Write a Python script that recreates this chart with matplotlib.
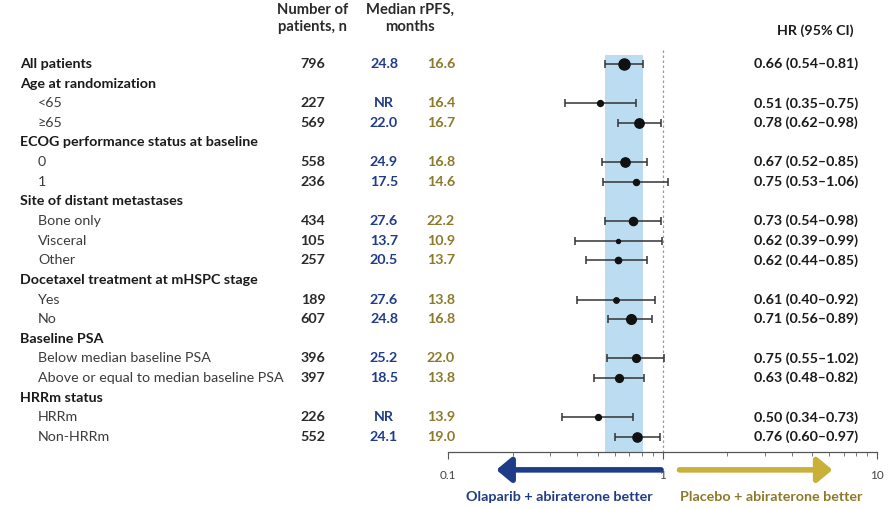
import matplotlib.pyplot as plt
import matplotlib.transforms as mtransforms
import numpy as np

plt.rcParams['font.family'] = ['Lato', 'DejaVu Sans']

# subgroup rows (header rows have n = None)
labels = ['All patients', 'Age at randomization', '<65', '≥65',
          'ECOG performance status at baseline', '0', '1',
          'Site of distant metastases', 'Bone only', 'Visceral', 'Other',
          'Docetaxel treatment at mHSPC stage', 'Yes', 'No',
          'Baseline PSA', 'Below median baseline PSA',
          'Above or equal to median baseline PSA',
          'HRRm status', 'HRRm', 'Non-HRRm']
n_pts = [796, None, 227, 569, None, 558, 236, None, 434, 105, 257,
         None, 189, 607, None, 396, 397, None, 226, 552]
rpfs_ola = ['24.8', '', 'NR', '22.0', '', '24.9', '17.5', '', '27.6', '13.7', '20.5',
            '', '27.6', '24.8', '', '25.2', '18.5', '', 'NR', '24.1']
rpfs_pbo = ['16.6', '', '16.4', '16.7', '', '16.8', '14.6', '', '22.2', '10.9', '13.7',
            '', '13.8', '16.8', '', '22.0', '13.8', '', '13.9', '19.0']
hr = [0.66, None, 0.51, 0.78, None, 0.67, 0.75, None, 0.73, 0.62, 0.62,
      None, 0.61, 0.71, None, 0.75, 0.63, None, 0.50, 0.76]
hr_lo = [0.54, None, 0.35, 0.62, None, 0.52, 0.53, None, 0.54, 0.39, 0.44,
         None, 0.40, 0.56, None, 0.55, 0.48, None, 0.34, 0.60]
hr_hi = [0.81, None, 0.75, 0.98, None, 0.85, 1.06, None, 0.98, 0.99, 0.85,
         None, 0.92, 0.89, None, 1.02, 0.82, None, 0.73, 0.97]

BLUE = '#1f3c88'
GOLD_TXT = '#8c7a2a'
GOLD = '#c9b03a'
DARK = '#1a1a1a'
GREY = '#3c3c3c'
FS = 10.3

W, H = 893, 508
fig = plt.figure(figsize=(W / 100, H / 100), dpi=100)
# forest panel: x from 448 to 877 px, y from top to axis line at 452 px
ax = fig.add_axes([448 / W, (H - 452) / H, (877 - 448) / W, 452 / H])
ax.set_xscale('log')
ax.set_xlim(0.1, 10)
ax.set_ylim(19.77, -3.26)

rows = np.arange(len(labels))
tr = mtransforms.blended_transform_factory(fig.transFigure, ax.transData)

# shaded band = CI of all patients, and reference line at HR 1
ax.fill_betweenx([-0.46, 19.77], hr_lo[0], hr_hi[0], color='#bcdcf2', lw=0, zorder=0)
ax.plot([1, 1], [-0.7, 19.77], ls=(0, (2, 2)), color='#9a9a9a', lw=0.9, zorder=1)

for i in rows:
    is_head = n_pts[i] is None
    bold = is_head or i == 0
    x0 = 20 if bold else 38
    ax.text(x0 / W, i, labels[i], transform=tr, ha='left', va='center',
            fontsize=FS, fontweight='bold' if bold else 'normal',
            color=DARK if bold else GREY)
    if is_head:
        continue
    ax.text(313 / W, i, str(n_pts[i]), transform=tr, ha='center', va='center',
            fontsize=FS, fontweight='bold', color='#2a2a2a')
    ax.text(384 / W, i, rpfs_ola[i], transform=tr, ha='center', va='center',
            fontsize=FS, fontweight='bold', color=BLUE)
    ax.text(441 / W, i, rpfs_pbo[i], transform=tr, ha='center', va='center',
            fontsize=FS, fontweight='bold', color=GOLD_TXT)
    ax.text(858 / W, i, f'{hr[i]:.2f} ({hr_lo[i]:.2f}–{hr_hi[i]:.2f})', transform=tr,
            ha='right', va='center', fontsize=FS, fontweight='bold', color=DARK)
    ax.errorbar(hr[i], i, xerr=[[hr[i] - hr_lo[i]], [hr_hi[i] - hr[i]]], fmt='none',
                ecolor='#333333', elinewidth=1.1, capsize=3, capthick=1.1, zorder=2)
    ax.scatter(hr[i], i, s=n_pts[i] * 0.08, color='#111111', zorder=3)

# column headers
ax.text(313 / W, -2.3, 'Number of\npatients, n', transform=tr, ha='center', va='center',
        fontsize=FS + 0.3, fontweight='bold', color='#2a2a2a', linespacing=1.3)
ax.text(410 / W, -2.3, 'Median rPFS,\nmonths', transform=tr, ha='center', va='center',
        fontsize=FS + 0.3, fontweight='bold', color='#2a2a2a', linespacing=1.3)
ax.text(815 / W, -1.7, 'HR (95% CI)', transform=tr, ha='center', va='center',
        fontsize=FS, fontweight='bold', color=DARK)

# axis styling
for s in ['top', 'right', 'left']:
    ax.spines[s].set_visible(False)
ax.spines['bottom'].set_color('#555555')
ax.spines['bottom'].set_linewidth(0.9)
ax.set_yticks([])
ax.set_xticks([0.1, 1, 10])
ax.set_xticklabels(['0.1', '1', '10'])
ax.tick_params(axis='x', which='major', length=5, width=0.8, colors='#555555',
               labelsize=8.5, pad=8)
ax.tick_params(axis='x', which='minor', length=3, width=0.7, colors='#777777')
for lab in ax.get_xticklabels():
    lab.set_color('#444444')

# direction arrows
ax.annotate('', xy=(0.168, 20.68), xytext=(0.985, 20.68), xycoords='data',
            annotation_clip=False,
            arrowprops=dict(arrowstyle='-|>,head_length=0.9,head_width=0.75',
                            color=BLUE, lw=4, shrinkA=0, shrinkB=0))
ax.annotate('', xy=(6.2, 20.68), xytext=(1.2, 20.68), xycoords='data',
            annotation_clip=False,
            arrowprops=dict(arrowstyle='-|>,head_length=0.9,head_width=0.75',
                            color=GOLD, lw=4, shrinkA=0, shrinkB=0))
ax.text(0.33, 22.05, 'Olaparib + abiraterone better', ha='center', va='center',
        fontsize=10.3, fontweight='bold', color=BLUE, clip_on=False)
ax.text(3.2, 22.05, 'Placebo + abiraterone better', ha='center', va='center',
        fontsize=10.3, fontweight='bold', color=GOLD_TXT, clip_on=False)

fig.savefig('out.png', dpi=100)
